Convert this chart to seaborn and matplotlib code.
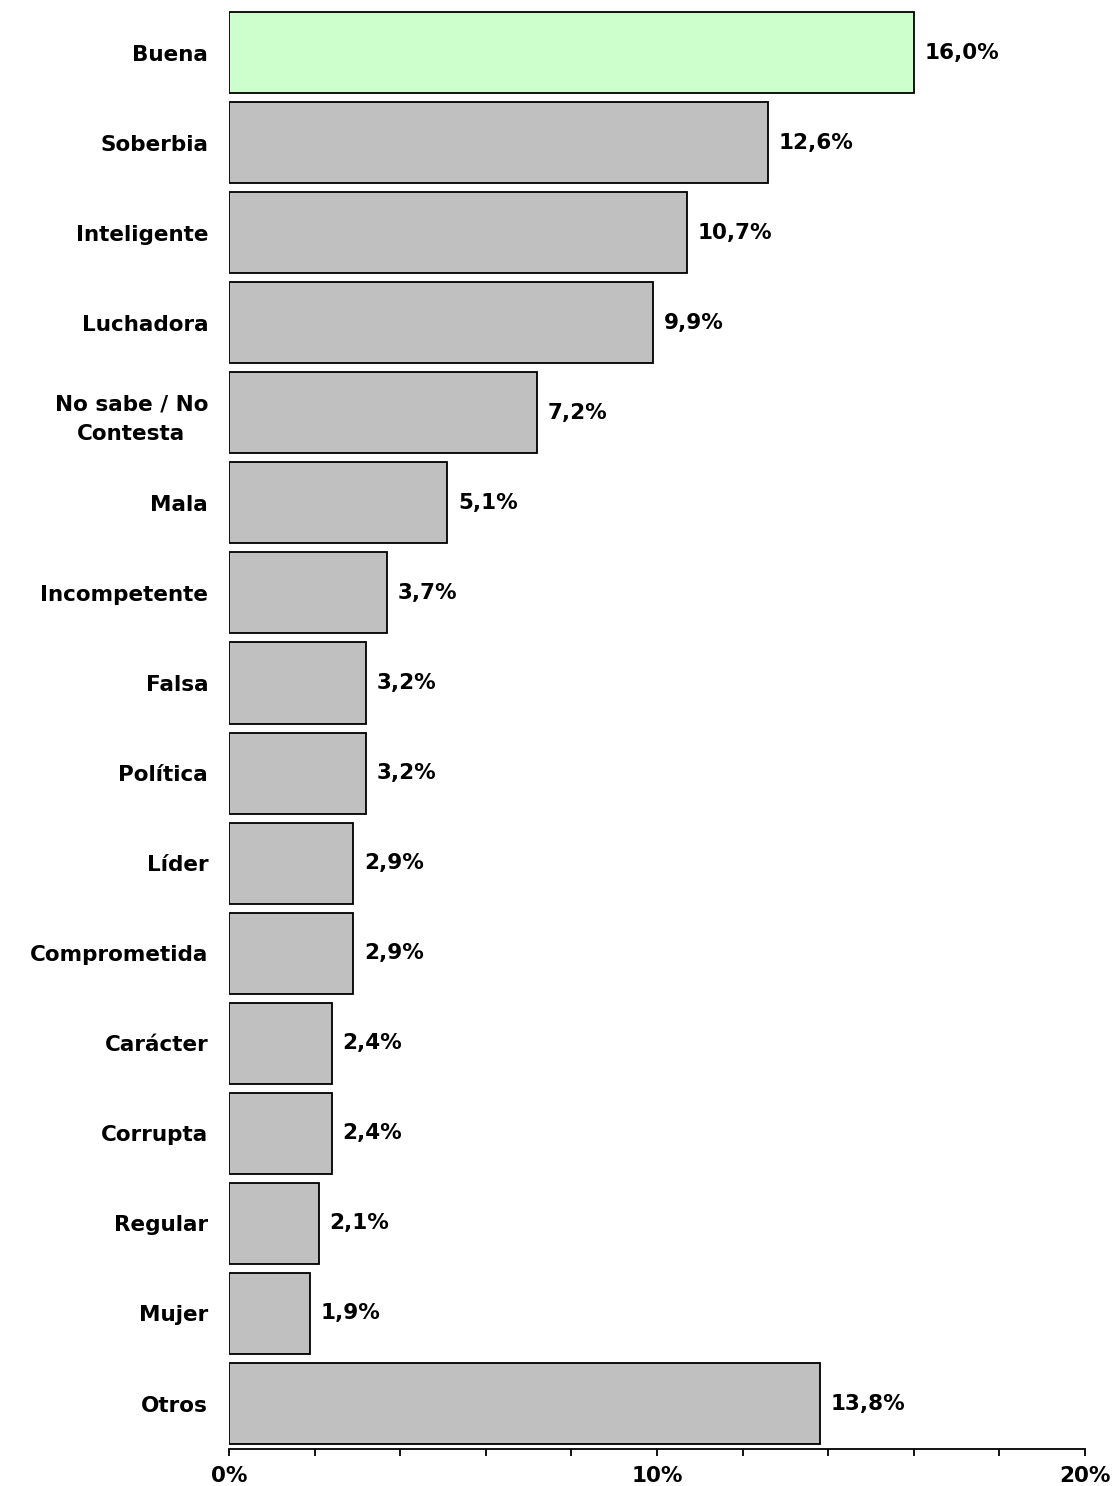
import matplotlib
matplotlib.use("Agg")
import matplotlib.pyplot as plt
import seaborn as sns
import pandas as pd
from matplotlib.ticker import MultipleLocator, FuncFormatter

categories = ["Buena", "Soberbia", "Inteligente", "Luchadora", "No sabe / No\nContesta",
              "Mala", "Incompetente", "Falsa", "Política", "Líder", "Comprometida",
              "Carácter", "Corrupta", "Regular", "Mujer", "Otros"]
values = [16.0, 12.6, 10.7, 9.9, 7.2, 5.1, 3.7, 3.2, 3.2, 2.9, 2.9, 2.4, 2.4, 2.1, 1.9, 13.8]
bar_colors = ["#CCFFCC"] + ["#C0C0C0"] * 15

df = pd.DataFrame({"cat": categories, "val": values})

sns.set_style("white")
plt.rcParams["font.family"] = ["DejaVu Sans"]
plt.rcParams["text.color"] = "black"
plt.rcParams["xtick.color"] = "black"
plt.rcParams["ytick.color"] = "black"

FS = 15.5

fig = plt.figure(figsize=(11.15, 14.86), dpi=100)
ax = fig.add_axes([229/1115, 37/1486, (1085-229)/1115, (1449-3)/1486])

sns.barplot(data=df, x="val", y="cat", hue="cat", palette=bar_colors, legend=False,
            orient="h", width=0.9, edgecolor="black", linewidth=1.3, ax=ax, saturation=1)

ax.set_xlim(0, 20)
ax.set_ylim(15.505, -0.55)
ax.xaxis.set_major_locator(MultipleLocator(10))
ax.xaxis.set_minor_locator(MultipleLocator(2))
ax.xaxis.set_major_formatter(FuncFormatter(lambda v, p: f"{int(v)}%"))
ax.tick_params(axis="x", which="both", direction="out", length=5, width=1.3, color="black",
               bottom=True, labelsize=FS, pad=7, labelcolor="black")
ax.tick_params(axis="y", length=0, pad=15, labelsize=FS, labelcolor="black")
for lbl in ax.get_xticklabels() + ax.get_yticklabels():
    lbl.set_fontweight("bold")
for lbl in ax.get_yticklabels():
    lbl.set_multialignment("center")
    lbl.set_linespacing(1.6)

for s in ["top", "right", "left"]:
    ax.spines[s].set_visible(False)
ax.spines["bottom"].set_linewidth(1.3)
ax.spines["bottom"].set_color("black")
ax.set_xlabel("")
ax.set_ylabel("")

for i, v in enumerate(values):
    ax.text(v + 0.25, i, f"{v:.1f}%".replace(".", ","), va="center", ha="left",
            fontsize=FS, fontweight="bold", color="black")

fig.savefig("out.png", dpi=100)
